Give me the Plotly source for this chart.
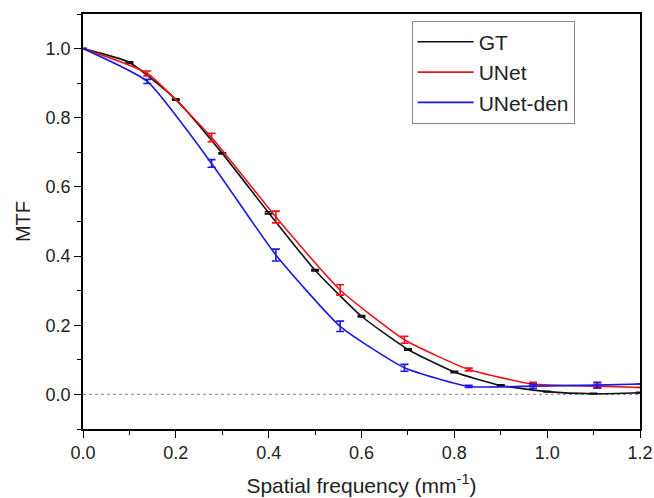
import plotly.graph_objects as go

# ---- data ----
gt_x = [0.0, 0.1, 0.2, 0.3, 0.4, 0.5, 0.6, 0.7, 0.8, 0.9, 1.0, 1.1, 1.2]
gt_y = [1.0, 0.960, 0.853, 0.697, 0.525, 0.359, 0.226, 0.130, 0.065, 0.026, 0.008, 0.002, 0.005]
gt_err = [0, 0.002, 0.002, 0.002, 0.003, 0.002, 0.002, 0.002, 0.002, 0.002, 0.001, 0.001, 0.001]

net_x = [0.0, 0.1385, 0.277, 0.4155, 0.554, 0.6925, 0.831, 0.9695, 1.108, 1.2]
unet_y = [1.0, 0.928, 0.743, 0.513, 0.302, 0.158, 0.072, 0.030, 0.024, 0.020]
unet_err = [0, 0.007, 0.012, 0.017, 0.015, 0.010, 0.004, 0.005, 0.006, 0]
den_y = [1.0, 0.905, 0.668, 0.403, 0.197, 0.077, 0.023, 0.024, 0.027, 0.030]
den_err = [0, 0.006, 0.011, 0.017, 0.015, 0.010, 0.003, 0.006, 0.008, 0]

names = ["GT", "UNet", "UNet-den"]
colors = ["#111111", "#e8141c", "#1a1ae0"]

x_ticks = [0.0, 0.2, 0.4, 0.6, 0.8, 1.0, 1.2]
y_ticks = [0.0, 0.2, 0.4, 0.6, 0.8, 1.0]

FONT = "Liberation Sans, Arial, sans-serif"

fig = go.Figure()
series = [(gt_x, gt_y, gt_err), (net_x, unet_y, unet_err), (net_x, den_y, den_err)]
for (xs, ys, es), name, col in zip(series, names, colors):
    fig.add_trace(go.Scatter(
        x=xs, y=ys, name=name, mode="lines",
        line=dict(color=col, width=1.6, shape="spline", smoothing=0.5),
        error_y=dict(type="data", array=es, visible=True, color=col,
                     thickness=1.6, width=4),
    ))

fig.add_shape(type="line", xref="paper", yref="y", x0=0, x1=1, y0=0, y1=0,
              line=dict(color="#999999", width=1.3, dash="dot"), layer="below")

axis_common = dict(
    showline=True, linecolor="black", linewidth=1.6, mirror=True,
    ticks="outside", ticklen=7, tickwidth=1.4, tickcolor="black",
    showgrid=False, zeroline=False, automargin=False,
    tickfont=dict(family=FONT, size=18, color="#222222"),
)

fig.update_xaxes(
    range=[0, 1.2], tickvals=x_ticks, ticktext=[f"{v:.1f}" for v in x_ticks],
    minor=dict(dtick=0.1, tick0=0, ticks="outside", ticklen=4, tickwidth=1.4, tickcolor="black"),
    title=dict(text="Spatial frequency (mm<sup>-1</sup>)", font=dict(family=FONT, size=21, color="#222222"),
               standoff=16),
    **axis_common,
)
fig.update_yaxes(
    range=[-0.1, 1.1], tickvals=y_ticks, ticktext=[f"{v:.1f}" for v in y_ticks],
    minor=dict(dtick=0.1, tick0=0, ticks="outside", ticklen=4, tickwidth=1.4, tickcolor="black"),
    title=dict(text="MTF", font=dict(family=FONT, size=20, color="#222222"), standoff=10),
    **axis_common,
)

fig.update_layout(
    width=654, height=498,
    margin=dict(l=83, r=14, t=14, b=69),
    paper_bgcolor="white", plot_bgcolor="white",
    showlegend=True,
    legend=dict(
        x=0.59, xanchor="left", y=0.984, yanchor="top",
        bordercolor="#888888", borderwidth=1, bgcolor="white",
        font=dict(family=FONT, size=21, color="#222222"),
        itemwidth=56, tracegroupgap=0,
    ),
)

fig.write_html(
    "out.html",
    config={"displayModeBar": False},
    post_script="document.body.style.margin='0';document.body.style.overflow='hidden';",
)
